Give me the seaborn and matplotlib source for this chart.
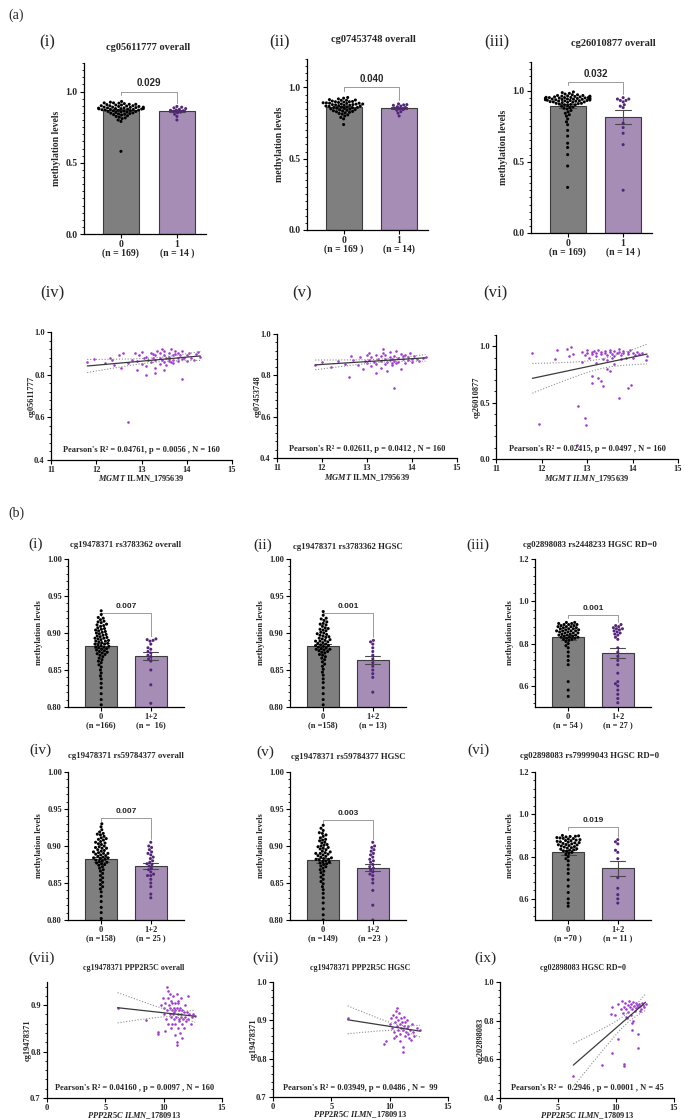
import numpy as np
import pandas as pd
import matplotlib
matplotlib.use('Agg')
from matplotlib import pyplot as plt
from matplotlib.ticker import MultipleLocator, AutoMinorLocator
import seaborn as sns

# ---------------- data ----------------
# (a) bar panels, group 0 / group 1 methylation values
a1_g0 = [0.930, 0.925, 0.920, 0.920, 0.915, 0.910, 0.910, 0.905, 0.905, 0.900, 0.900, 0.900, 0.895, 0.895,
         0.890, 0.890, 0.890, 0.888, 0.885, 0.885, 0.883, 0.880, 0.880, 0.880, 0.878, 0.876, 0.875, 0.874,
         0.872, 0.870, 0.870, 0.868, 0.866, 0.865, 0.863, 0.860, 0.860, 0.858, 0.855, 0.853, 0.850, 0.848,
         0.845, 0.842, 0.840, 0.838, 0.835, 0.830, 0.825, 0.820, 0.815, 0.810, 0.800, 0.790, 0.580,
         0.918, 0.908, 0.898, 0.887, 0.877]
a1_g1 = [0.895, 0.890, 0.885, 0.880, 0.875, 0.870, 0.868, 0.865, 0.860, 0.855, 0.850, 0.840, 0.825, 0.800]

a2_g0 = [0.930, 0.925, 0.920, 0.915, 0.910, 0.910, 0.905, 0.900, 0.900, 0.898, 0.895, 0.893, 0.890, 0.890,
         0.888, 0.885, 0.883, 0.880, 0.880, 0.878, 0.875, 0.873, 0.870, 0.870, 0.868, 0.865, 0.863, 0.860,
         0.860, 0.858, 0.855, 0.853, 0.850, 0.848, 0.845, 0.843, 0.840, 0.837, 0.835, 0.832, 0.830, 0.826,
         0.822, 0.818, 0.813, 0.808, 0.800, 0.790, 0.780, 0.740, 0.912, 0.902, 0.892, 0.884, 0.876]
a2_g1 = [0.885, 0.880, 0.878, 0.875, 0.870, 0.865, 0.860, 0.855, 0.850, 0.845, 0.840, 0.830, 0.820, 0.800]

a3_g0 = [0.990, 0.985, 0.980, 0.975, 0.970, 0.970, 0.965, 0.960, 0.960, 0.955, 0.955, 0.950, 0.950, 0.950,
         0.948, 0.945, 0.945, 0.940, 0.940, 0.940, 0.938, 0.935, 0.935, 0.930, 0.930, 0.928, 0.925, 0.920,
         0.920, 0.915, 0.910, 0.910, 0.905, 0.900, 0.900, 0.895, 0.890, 0.885, 0.880, 0.875, 0.965, 0.958,
         0.952, 0.947, 0.943, 0.937, 0.932, 0.927, 0.922, 0.917, 0.962, 0.956, 0.951, 0.944, 0.939, 0.933,
         0.926, 0.918, 0.908, 0.902, 0.870, 0.860, 0.850, 0.840, 0.830, 0.820, 0.800, 0.780, 0.760, 0.720,
         0.680, 0.630, 0.600, 0.550, 0.470, 0.320]
a3_g1 = [0.950, 0.940, 0.930, 0.920, 0.930, 0.900, 0.890, 0.880, 0.770, 0.740, 0.700, 0.620, 0.300, 0.940]

# (b) bar panels
b1_g0 = [0.930, 0.925, 0.921, 0.918, 0.916, 0.914, 0.912, 0.910, 0.909, 0.907, 0.905, 0.904, 0.902, 0.901,
         0.900, 0.899, 0.898, 0.896, 0.895, 0.894, 0.893, 0.892, 0.891, 0.890, 0.889, 0.888, 0.887, 0.886,
         0.885, 0.884, 0.883, 0.882, 0.881, 0.880, 0.879, 0.878, 0.877, 0.876, 0.875, 0.874, 0.873, 0.872,
         0.871, 0.870, 0.868, 0.866, 0.864, 0.862, 0.860, 0.857, 0.854, 0.850, 0.846, 0.842, 0.838, 0.832,
         0.826, 0.818, 0.810, 0.803, 0.920, 0.915, 0.911, 0.906, 0.903, 0.897, 0.893, 0.889, 0.885, 0.881]
b1_g1 = [0.892, 0.891, 0.890, 0.889, 0.885, 0.880, 0.878, 0.875, 0.873, 0.870, 0.868, 0.865, 0.862, 0.850,
         0.830, 0.805]

b2_g0 = [0.929, 0.924, 0.920, 0.917, 0.915, 0.913, 0.911, 0.909, 0.907, 0.906, 0.904, 0.903, 0.901, 0.900,
         0.899, 0.898, 0.897, 0.895, 0.894, 0.893, 0.892, 0.891, 0.890, 0.889, 0.888, 0.887, 0.886, 0.885,
         0.884, 0.883, 0.882, 0.881, 0.880, 0.879, 0.878, 0.877, 0.876, 0.875, 0.874, 0.873, 0.871, 0.870,
         0.868, 0.866, 0.864, 0.861, 0.858, 0.855, 0.851, 0.847, 0.843, 0.838, 0.833, 0.826, 0.818, 0.810,
         0.803, 0.919, 0.912, 0.905, 0.896, 0.889, 0.883, 0.878]
b2_g1 = [0.890, 0.888, 0.885, 0.880, 0.875, 0.870, 0.865, 0.860, 0.855, 0.850, 0.845, 0.840, 0.820]

b3_g0 = [0.900, 0.895, 0.890, 0.890, 0.885, 0.880, 0.880, 0.875, 0.870, 0.870, 0.865, 0.860, 0.860, 0.855,
         0.850, 0.850, 0.845, 0.840, 0.840, 0.835, 0.830, 0.830, 0.825, 0.820, 0.820, 0.815, 0.810, 0.800,
         0.790, 0.780, 0.760, 0.740, 0.720, 0.700, 0.860, 0.620, 0.580, 0.550, 0.900, 0.895, 0.890, 0.885,
         0.880, 0.875, 0.870, 0.865, 0.860, 0.855, 0.850, 0.845, 0.840, 0.835, 0.830, 0.825]
b3_g1 = [0.890, 0.885, 0.880, 0.875, 0.870, 0.870, 0.865, 0.860, 0.855, 0.850, 0.845, 0.840, 0.830, 0.820,
         0.780, 0.760, 0.740, 0.720, 0.700, 0.660, 0.620, 0.610, 0.600, 0.580, 0.560, 0.540, 0.520]

b4_g0 = [0.930, 0.926, 0.922, 0.919, 0.917, 0.915, 0.913, 0.911, 0.909, 0.908, 0.906, 0.905, 0.903, 0.902,
         0.900, 0.899, 0.898, 0.897, 0.895, 0.894, 0.893, 0.892, 0.891, 0.890, 0.889, 0.888, 0.887, 0.886,
         0.885, 0.884, 0.883, 0.882, 0.881, 0.880, 0.879, 0.878, 0.877, 0.876, 0.875, 0.874, 0.872, 0.870,
         0.868, 0.866, 0.863, 0.860, 0.857, 0.854, 0.851, 0.848, 0.845, 0.842, 0.838, 0.832, 0.825, 0.817,
         0.810, 0.802, 0.916, 0.910, 0.904, 0.897, 0.890, 0.884]
b4_g1 = [0.905, 0.900, 0.898, 0.895, 0.892, 0.890, 0.888, 0.885, 0.883, 0.880, 0.878, 0.876, 0.875, 0.873,
         0.870, 0.868, 0.865, 0.862, 0.860, 0.855, 0.850, 0.845, 0.835, 0.830, 0.860]

b5_g0 = [0.928, 0.924, 0.921, 0.918, 0.915, 0.913, 0.911, 0.909, 0.907, 0.905, 0.904, 0.902, 0.901, 0.900,
         0.898, 0.897, 0.896, 0.895, 0.893, 0.892, 0.891, 0.890, 0.889, 0.888, 0.887, 0.886, 0.885, 0.884,
         0.883, 0.882, 0.881, 0.880, 0.879, 0.878, 0.877, 0.876, 0.875, 0.873, 0.872, 0.870, 0.868, 0.866,
         0.864, 0.861, 0.858, 0.855, 0.852, 0.849, 0.845, 0.841, 0.836, 0.830, 0.823, 0.815, 0.807, 0.800,
         0.917, 0.908, 0.899, 0.890, 0.882]
b5_g1 = [0.905, 0.900, 0.898, 0.895, 0.893, 0.890, 0.888, 0.885, 0.882, 0.880, 0.878, 0.875, 0.872, 0.870,
         0.868, 0.865, 0.862, 0.860, 0.855, 0.850, 0.840, 0.820, 0.800]

b6_g0 = [0.900, 0.898, 0.895, 0.893, 0.890, 0.888, 0.885, 0.883, 0.880, 0.878, 0.875, 0.872, 0.870, 0.868,
         0.865, 0.862, 0.860, 0.857, 0.855, 0.852, 0.850, 0.847, 0.845, 0.842, 0.840, 0.837, 0.835, 0.832,
         0.830, 0.827, 0.825, 0.820, 0.815, 0.810, 0.800, 0.790, 0.780, 0.760, 0.740, 0.720, 0.690, 0.660,
         0.630, 0.600, 0.580, 0.565, 0.896, 0.886, 0.876, 0.866, 0.856]
b6_g1 = [0.880, 0.870, 0.860, 0.830, 0.820, 0.790, 0.700, 0.650, 0.620, 0.600, 0.580]

# (a) scatter panels: MGMT ILMN_1795639 expression vs methylation
iv_x = [11.8, 11.95, 12.2, 12.3, 12.4, 12.5, 12.55, 12.7, 12.7, 12.8, 12.85, 12.9, 12.9, 13.0, 13.0, 13.05,
        13.1, 13.1, 13.15, 13.2, 13.2, 13.25, 13.3, 13.3, 13.3, 13.35, 13.4, 13.4, 13.4, 13.45, 13.5, 13.5,
        13.5, 13.55, 13.55, 13.6, 13.6, 13.6, 13.65, 13.65, 13.7, 13.7, 13.7, 13.75, 13.8, 13.8, 13.8, 13.85,
        13.9, 13.9, 13.95, 14.0, 14.0, 14.05, 14.1, 14.15, 14.2, 14.3, 13.1, 13.3, 13.5, 13.9, 12.6, 12.95,
        13.45, 13.75, 13.25, 13.6, 14.25, 12.35]
iv_y = [0.860, 0.875, 0.855, 0.880, 0.845, 0.890, 0.830, 0.580, 0.855, 0.870, 0.900, 0.820, 0.865, 0.850,
        0.905, 0.880, 0.840, 0.885, 0.870, 0.900, 0.860, 0.880, 0.830, 0.870, 0.890, 0.910, 0.850, 0.880,
        0.900, 0.870, 0.860, 0.890, 0.910, 0.880, 0.845, 0.875, 0.900, 0.885, 0.860, 0.920, 0.890, 0.870,
        0.855, 0.910, 0.880, 0.900, 0.865, 0.890, 0.875, 0.910, 0.880, 0.890, 0.865, 0.900, 0.880, 0.870,
        0.895, 0.885, 0.800, 0.810, 0.820, 0.780, 0.900, 0.890, 0.920, 0.895, 0.895, 0.865, 0.905, 0.870]

v_x = [11.85, 12.0, 12.2, 12.35, 12.5, 12.6, 12.7, 12.8, 12.85, 12.9, 12.95, 13.0, 13.0, 13.05, 13.1, 13.1,
       13.15, 13.2, 13.2, 13.25, 13.3, 13.3, 13.3, 13.35, 13.4, 13.4, 13.4, 13.45, 13.5, 13.5, 13.5, 13.55,
       13.55, 13.6, 13.6, 13.6, 13.65, 13.65, 13.7, 13.7, 13.75, 13.8, 13.8, 13.85, 13.9, 13.9, 13.95, 14.0,
       14.0, 14.05, 14.1, 14.15, 14.25, 14.3, 13.2, 13.45, 13.75, 12.65, 13.05, 13.35, 13.85, 13.55]
v_y = [0.850, 0.865, 0.840, 0.870, 0.855, 0.790, 0.875, 0.850, 0.890, 0.830, 0.870, 0.860, 0.900, 0.875,
       0.845, 0.890, 0.865, 0.900, 0.855, 0.880, 0.835, 0.870, 0.895, 0.910, 0.855, 0.880, 0.900, 0.865,
       0.875, 0.890, 0.915, 0.880, 0.850, 0.740, 0.870, 0.895, 0.860, 0.920, 0.885, 0.865, 0.905, 0.880,
       0.895, 0.860, 0.890, 0.875, 0.910, 0.880, 0.865, 0.895, 0.880, 0.870, 0.885, 0.890, 0.810, 0.820,
       0.830, 0.895, 0.910, 0.925, 0.900, 0.860]

vi_x = [11.8, 11.95, 12.3, 12.35, 12.55, 12.65, 12.8, 12.77, 12.95, 12.98, 13.1, 13.1, 13.25, 13.3, 13.35,
        13.45, 13.5, 13.7, 13.9, 13.97, 14.3, 14.32, 12.9, 13.6, 13.2, 12.9, 12.95, 13.0, 13.0, 13.05, 13.1,
        13.1, 13.15, 13.2, 13.2, 13.25, 13.3, 13.3, 13.35, 13.4, 13.4, 13.45, 13.5, 13.5, 13.55, 13.6, 13.6,
        13.65, 13.7, 13.7, 13.75, 13.8, 13.8, 13.85, 13.9, 13.9, 13.95, 14.0, 14.05, 14.1, 14.15, 14.2, 13.45,
        13.75, 12.7, 12.6, 13.55, 14.0]
vi_y = [0.940, 0.310, 0.890, 0.965, 0.975, 0.990, 0.470, 0.120, 0.360, 0.300, 0.735, 0.670, 0.720, 0.690,
        0.650, 0.800, 0.780, 0.545, 0.630, 0.660, 0.880, 0.910, 0.860, 0.840, 0.850, 0.950, 0.920, 0.940,
        0.970, 0.900, 0.950, 0.930, 0.960, 0.910, 0.940, 0.970, 0.930, 0.950, 0.890, 0.960, 0.940, 0.920,
        0.950, 0.970, 0.930, 0.960, 0.910, 0.940, 0.950, 0.980, 0.920, 0.940, 0.960, 0.900, 0.950, 0.930,
        0.970, 0.940, 0.920, 0.950, 0.930, 0.940, 0.880, 0.890, 0.930, 0.910, 0.900, 0.900]

# (b) scatter panels: PPP2R5C ILMN_1780913 expression vs methylation
vii_x = [6.05, 8.46, 9.5, 9.55, 9.8, 9.9, 10.0, 10.0, 10.1, 10.2, 10.25, 10.3, 10.35, 10.4, 10.45, 10.5,
         10.5, 10.55, 10.6, 10.6, 10.65, 10.7, 10.7, 10.75, 10.8, 10.8, 10.85, 10.9, 10.9, 10.95, 11.0, 11.0,
         11.05, 11.1, 11.1, 11.1, 11.15, 11.2, 11.2, 11.25, 11.3, 11.3, 11.35, 11.4, 11.4, 11.45, 11.5, 11.5,
         11.55, 11.6, 11.65, 11.7, 11.75, 11.8, 11.85, 11.9, 12.0, 12.05, 12.1, 12.2, 12.3, 12.4, 12.5, 12.7,
         10.15, 10.95, 11.6, 10.4, 11.25]
vii_y = [0.893, 0.868, 0.838, 0.842, 0.900, 0.915, 0.880, 0.895, 0.905, 0.870, 0.940, 0.890, 0.915, 0.860,
         0.900, 0.880, 0.925, 0.895, 0.850, 0.910, 0.875, 0.890, 0.905, 0.860, 0.880, 0.920, 0.895, 0.870,
         0.885, 0.905, 0.860, 0.890, 0.875, 0.815, 0.925, 0.820, 0.895, 0.880, 0.850, 0.905, 0.870, 0.890,
         0.865, 0.895, 0.840, 0.880, 0.915, 0.875, 0.860, 0.890, 0.870, 0.885, 0.850, 0.900, 0.875, 0.865,
         0.885, 0.920, 0.870, 0.880, 0.860, 0.875, 0.880, 0.877, 0.845, 0.835, 0.830, 0.930, 0.910]

viih_x = [6.4, 9.55, 9.65, 10.0, 10.1, 10.2, 10.3, 10.4, 10.45, 10.5, 10.55, 10.6, 10.65, 10.7, 10.75, 10.8,
          10.85, 10.9, 10.95, 11.0, 11.05, 11.1, 11.1, 11.15, 11.2, 11.25, 11.3, 11.35, 11.4, 11.45, 11.5,
          11.55, 11.6, 11.7, 11.8, 11.9, 12.0, 12.1, 12.3, 12.6, 10.35, 10.9, 11.65, 10.5]
viih_y = [0.906, 0.838, 0.845, 0.890, 0.905, 0.880, 0.915, 0.870, 0.895, 0.860, 0.910, 0.933, 0.885, 0.900,
          0.875, 0.920, 0.890, 0.865, 0.905, 0.880, 0.895, 0.818, 0.830, 0.875, 0.910, 0.885, 0.860, 0.895,
          0.870, 0.880, 0.900, 0.865, 0.885, 0.875, 0.850, 0.890, 0.870, 0.860, 0.880, 0.875, 0.855, 0.845,
          0.855, 0.925]

ix_x = [6.32, 8.77, 9.63, 10.2, 10.65, 10.7, 11.4, 11.87, 11.9, 9.63, 9.6, 9.9, 10.2, 10.4, 10.5, 10.6, 10.7,
        10.8, 10.85, 10.9, 11.0, 11.05, 11.1, 11.2, 11.25, 11.3, 11.4, 11.45, 11.5, 11.55, 11.6, 11.7, 11.75,
        11.8, 11.9, 12.0, 12.05, 12.1, 12.2, 12.3, 12.4, 12.55, 11.35, 10.95, 12.15]
ix_y = [0.516, 0.571, 0.631, 0.705, 0.565, 0.575, 0.753, 0.660, 0.730, 0.870, 0.835, 0.830, 0.885, 0.860,
        0.900, 0.840, 0.870, 0.890, 0.820, 0.860, 0.880, 0.845, 0.900, 0.870, 0.830, 0.885, 0.860, 0.895,
        0.800, 0.875, 0.850, 0.890, 0.865, 0.880, 0.870, 0.885, 0.850, 0.875, 0.890, 0.880, 0.870, 0.885,
        0.790, 0.815, 0.860]

# ---------------- styling ----------------
sns.set_theme(style='ticks')
plt.rcParams['font.family'] = ['Liberation Serif', 'DejaVu Serif']
plt.rcParams['font.weight'] = 'bold'
plt.rcParams['axes.labelweight'] = 'bold'
plt.rcParams['mathtext.fontset'] = 'custom'
plt.rcParams['mathtext.rm'] = 'Liberation Serif:bold'
plt.rcParams['mathtext.it'] = 'Liberation Serif:italic:bold'

GREY = '#7f7f7f'
PURPLE = '#a686bd'
DOT0 = 'black'
DOT1 = '#53257a'
SCAT = '#9b30d0'

W, H = 685, 1120
fig = plt.figure(figsize=(W / 100, H / 100), dpi=100)


def px_axes(l, t, r, b):
    return fig.add_axes([l / W, 1 - b / H, (r - l) / W, (b - t) / H])


def ftext(x, y, s, **kw):
    fig.text(x / W, 1 - y / H, s, **kw)


def style_axes(ax, fs):
    sns.despine(ax=ax)
    for sp in ['left', 'bottom']:
        ax.spines[sp].set_linewidth(0.9)
        ax.spines[sp].set_color('black')
    ax.tick_params(axis='both', which='major', length=3, width=0.8, labelsize=fs, pad=1.5, color='black')
    ax.tick_params(axis='y', which='minor', length=1.6, width=0.6, color='black')


# bar chart with mean +/- SEM and the individual values
def bar_panel(box, g0, g1, ticklabels, title, tpos, pval, ylim, major, nminor, bracket_y,
              xlim, fs=6, title_fs=6, dot=2.2):
    ax = px_axes(*box)
    df = pd.DataFrame({'group': ['0'] * len(g0) + ['1'] * len(g1), 'value': g0 + g1})
    ax.set_ylim(*ylim)
    sns.barplot(data=df, x='group', y='value', hue='group', palette=[GREY, PURPLE], errorbar='se',
                capsize=0.3, width=0.65, edgecolor='#3c3c3c', linewidth=0.8,
                err_kws={'color': '#4a4a4a', 'linewidth': 0.8}, legend=False, ax=ax)
    sns.swarmplot(data=df, x='group', y='value', hue='group', palette=[DOT0, DOT1], size=dot,
                  legend=False, ax=ax, warn_thresh=1)
    ax.set_ylim(*ylim)
    ax.set_xlim(*xlim)
    ax.yaxis.set_major_locator(MultipleLocator(major))
    ax.yaxis.set_minor_locator(AutoMinorLocator(nminor))
    ax.set_xticks([0, 1])
    ax.set_xticklabels(ticklabels, linespacing=0.95)
    ax.set_xlabel('')
    ax.set_ylabel('methylation levels', fontsize=fs, labelpad=3)
    style_axes(ax, fs)
    rng = ylim[1] - ylim[0]
    right_end = max(g1) + 0.02 * rng
    ax.plot([0, 0, 1, 1], [bracket_y - 0.02 * rng, bracket_y, bracket_y, right_end],
            color='#9a9a9a', lw=0.7, clip_on=False)
    ax.text(0.5, bracket_y + 0.02 * rng, pval, ha='center', va='bottom', fontsize=fs,
            family='Liberation Sans', weight='bold')
    ftext(tpos[0], tpos[1], title, ha='center', va='center', fontsize=title_fs)
    return ax


# 95% confidence band of the fitted line
def conf_band(x, y):
    x = np.asarray(x)
    y = np.asarray(y)
    n = len(x)
    b, a = np.polyfit(x, y, 1)
    xs = np.linspace(x.min(), x.max(), 60)
    s = np.sqrt(np.sum((y - (a + b * x)) ** 2) / (n - 2))
    sxx = np.sum((x - x.mean()) ** 2)
    se = s * np.sqrt(1.0 / n + (xs - x.mean()) ** 2 / sxx)
    yh = a + b * xs
    return xs, yh - 1.98 * se, yh + 1.98 * se


def scatter_panel(box, x, y, xlim, ylim, xmaj, ymaj, ylab, xlab, xlab_y, note, note_y, fs=6):
    ax = px_axes(*box)
    sns.regplot(x=np.array(x), y=np.array(y), ax=ax, ci=None,
                scatter_kws={'s': 3.5, 'color': SCAT, 'linewidths': 0, 'alpha': 0.95},
                line_kws={'color': '#3a3a3a', 'lw': 0.9})
    xs, lo, hi = conf_band(x, y)
    ax.plot(xs, lo, ls=(0, (1, 1.6)), color='#8f8f8f', lw=0.8)
    ax.plot(xs, hi, ls=(0, (1, 1.6)), color='#8f8f8f', lw=0.8)
    ax.set_xlim(*xlim)
    ax.set_ylim(*ylim)
    ax.xaxis.set_major_locator(MultipleLocator(xmaj))
    ax.yaxis.set_major_locator(MultipleLocator(ymaj))
    ax.yaxis.set_minor_locator(AutoMinorLocator(5))
    style_axes(ax, fs)
    l, t, r, b = box
    ftext(l - 19, (t + b) / 2, ylab, rotation=90, ha='center', va='center', fontsize=6)
    ftext((l + r) / 2, xlab_y, xlab, ha='center', va='center', fontsize=6)
    ftext((l + r) / 2, note_y, note, ha='center', va='center', fontsize=6)
    return ax


# ---------------- (a) ----------------
ftext(16, 15, '(a)', fontsize=10, weight='normal', ha='center', va='center')
for s, x in [('(i)', 47), ('(ii)', 280), ('(iii)', 497)]:
    ftext(x, 42, s, fontsize=12, weight='normal', ha='center', va='center')

row1 = dict(ylim=(0, 1.2), major=0.5, nminor=10, xlim=(-0.66, 1.52), fs=7, title_fs=7.5)
bar_panel((84, 63, 206, 234), a1_g0, a1_g1, ['0\n(n = 169)', '1\n(n = 14 )'],
          'cg05611777 overall', (148, 47), '0.029', bracket_y=1.0, **row1)
bar_panel((307, 59, 428, 230), a2_g0, a2_g1, ['0\n(n = 169 )', '1\n(n = 14)'],
          'cg07453748 overall', (373, 40), '0.040', bracket_y=1.0, **row1)
bar_panel((531, 62, 652, 233), a3_g0, a3_g1, ['0\n(n = 169)', '1\n(n = 14 )'],
          'cg26010877 overall', (613, 43), '0.032', bracket_y=1.06, **row1)

for s, x in [('(iv)', 52), ('(v)', 302), ('(vi)', 495)]:
    ftext(x, 293, s, fontsize=12, weight='normal', ha='center', va='center')

scatter_panel((51, 332, 232, 460), iv_x, iv_y, (11, 15), (0.4, 1.0), 1, 0.2, 'cg05611777',
              r'$\mathit{MGMT}$ ILMN_1795639', 479, "Pearson's R² = 0.04761, p = 0.0056 , N = 160", 450)
scatter_panel((277, 334, 457, 458), v_x, v_y, (11, 15), (0.4, 1.0), 1, 0.2, 'cg07453748',
              r'$\mathit{MGMT}$ ILMN_1795639', 478, "Pearson's R² = 0.02611, p = 0.0412 , N = 160", 449)
scatter_panel((496, 335, 678, 459), vi_x, vi_y, (11, 15), (0.0, 1.1), 1, 0.5, 'cg26010877',
              r'$\mathit{MGMT\ ILMN\_1795639}$', 479, "Pearson's R² = 0.02415, p = 0.0497 , N = 160", 449)

# ---------------- (b) ----------------
ftext(16, 513, '(b)', fontsize=10, weight='normal', ha='center', va='center')
for s, x, y in [('(i)', 36, 544), ('(ii)', 263, 545), ('(iii)', 478, 545),
                ('(iv)', 40, 750), ('(v)', 265, 752), ('(vi)', 478, 750)]:
    ftext(x, y, s, fontsize=11, weight='normal', ha='center', va='center')

fine = dict(ylim=(0.8, 1.0), major=0.05, nminor=5, xlim=(-0.67, 1.67), fs=6, title_fs=6.3)
wide = dict(ylim=(0.5, 1.2), major=0.2, nminor=5, xlim=(-0.67, 1.67), fs=6, title_fs=6.3)

bar_panel((68, 559, 184, 707), b1_g0, b1_g1, ['0\n(n =166)', '1+2\n(n =  16)'],
          'cg19478371 rs3783362 overall', (126, 545), '0.007', bracket_y=0.927, **fine)
bar_panel((290, 559, 406, 707), b2_g0, b2_g1, ['0\n(n =158)', '1+2\n(n = 13)'],
          'cg19478371 rs3783362 HGSC', (348, 547), '0.001', bracket_y=0.927, **fine)
bar_panel((535, 559, 651, 707), b3_g0, b3_g1, ['0\n(n = 54 )', '1+2\n(n = 27 )'],
          'cg02898083 rs2448233 HGSC RD=0', (590, 545), '0.001', bracket_y=0.935, **wide)
bar_panel((68, 772, 184, 920), b4_g0, b4_g1, ['0\n(n =158)', '1+2\n(n = 25 )'],
          'cg19478371 rs59784377 overall', (126, 756), '0.007', bracket_y=0.938, **fine)
bar_panel((290, 772, 406, 920), b5_g0, b5_g1, ['0\n(n =149)', '1+2\n(n =23  )'],
          'cg19478371 rs59784377 HGSC', (348, 757), '0.003', bracket_y=0.935, **fine)
bar_panel((535, 772, 651, 920), b6_g0, b6_g1, ['0\n(n =70 )', '1+2\n(n = 11 )'],
          'cg02898083 rs79999043 HGSC RD=0', (590, 756), '0.019', bracket_y=0.94, **wide)

for s, x in [('(vii)', 42), ('(vii)', 266), ('(ix)', 485)]:
    ftext(x, 958, s, fontsize=11, weight='normal', ha='center', va='center')

xlab_b = r'$\mathit{PPP2R5C\ ILMN\_1780913}$'
scatter_panel((47, 982, 222, 1098), vii_x, vii_y, (0, 15), (0.7, 0.95), 5, 0.1, 'cg19478371',
              xlab_b, 1116, "Pearson's R² = 0.04160 , p = 0.0097 , N = 160", 1088)
ftext(134, 968, 'cg19478371 PPP2R5C overall', ha='center', va='center', fontsize=5.8)
scatter_panel((273, 982, 448, 1097), viih_x, viih_y, (0, 15), (0.7, 1.0), 5, 0.1, 'cg19478371',
              xlab_b, 1115, "Pearson's R² = 0.03949, p = 0.0486 , N =  99", 1088)
ftext(360, 968, 'cg19478371 PPP2R5C HGSC', ha='center', va='center', fontsize=5.8)
scatter_panel((500, 982, 674, 1098), ix_x, ix_y, (0, 15), (0.4, 1.0), 5, 0.2, 'cg202898083',
              xlab_b, 1116, "Pearson's R² =  0.2946 , p = 0.0001 , N = 45", 1088)
ftext(583, 968, 'cg02898083 HGSC RD=0', ha='center', va='center', fontsize=5.8)

fig.savefig('out.png', dpi=100)
